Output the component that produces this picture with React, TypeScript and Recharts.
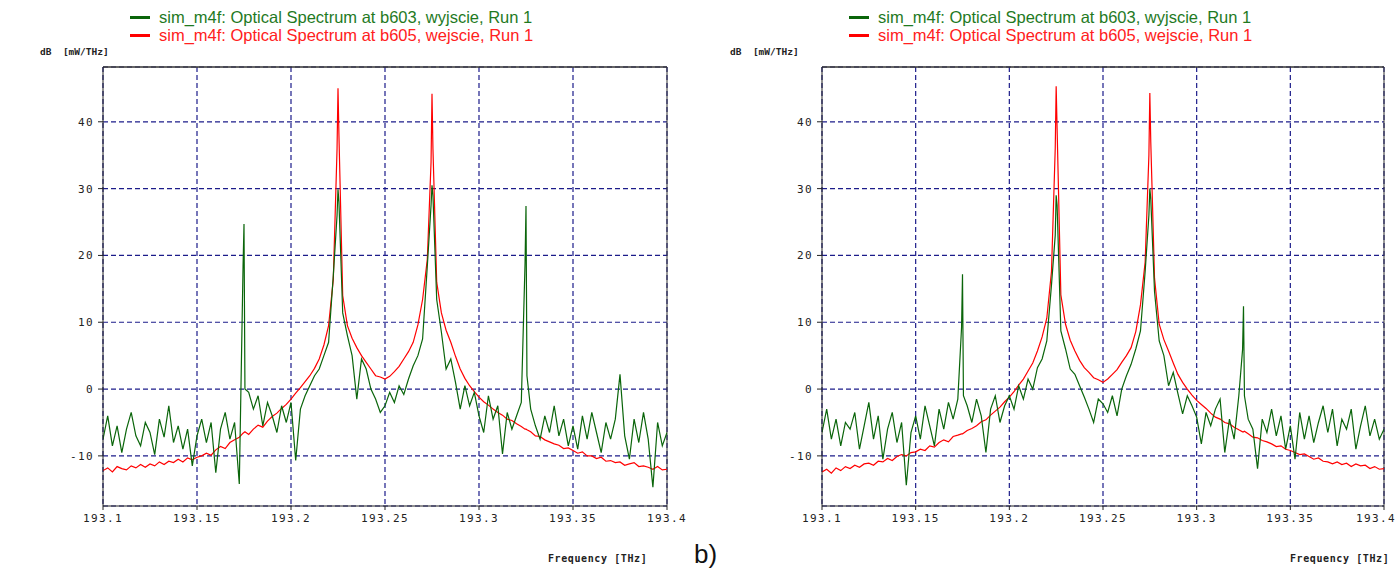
import { CartesianGrid, Line, LineChart, ReferenceLine, XAxis, YAxis } from "recharts";

// sampling grid of the spectrum analyser, THz
const freqGrid = [
  193.1, 193.1025, 193.105, 193.1075, 193.11, 193.1125, 193.115, 193.1175, 193.12, 193.1225,
  193.125, 193.1275, 193.13, 193.1325, 193.135, 193.1375, 193.14, 193.1425, 193.145, 193.1475,
  193.15, 193.1525, 193.155, 193.1575, 193.16, 193.1625, 193.165, 193.1675, 193.17, 193.1725,
  193.175, 193.1775, 193.18, 193.1825, 193.185, 193.1875, 193.19, 193.1925, 193.195, 193.1975,
  193.2, 193.2025, 193.205, 193.2075, 193.21, 193.2125, 193.215, 193.2175, 193.22, 193.2225,
  193.225, 193.2275, 193.23, 193.2325, 193.235, 193.2375, 193.24, 193.2425, 193.245, 193.2475,
  193.25, 193.2525, 193.255, 193.2575, 193.26, 193.2625, 193.265, 193.2675, 193.27, 193.2725,
  193.275, 193.2775, 193.28, 193.2825, 193.285, 193.2875, 193.29, 193.2925, 193.295, 193.2975,
  193.3, 193.3025, 193.305, 193.3075, 193.31, 193.3125, 193.315, 193.3175, 193.32, 193.3225,
  193.325, 193.3275, 193.33, 193.3325, 193.335, 193.3375, 193.34, 193.3425, 193.345, 193.3475,
  193.35, 193.3525, 193.355, 193.3575, 193.36, 193.3625, 193.365, 193.3675, 193.37, 193.3725,
  193.375, 193.3775, 193.38, 193.3825, 193.385, 193.3875, 193.39, 193.3925, 193.395, 193.3975, 193.4,
];

// extra samples around the narrow lines
const spikeFreq = [193.1745, 193.1755, 193.2245, 193.2255, 193.2745, 193.2755, 193.3245, 193.3255];

// left panel, b603 (wyjscie) and b605 (wejscie), dB
const leftGreen = [
  -7.5, -4.0, -8.5, -5.5, -9.5, -6.0, -3.5, -7.0, -8.5, -5.0,
  -6.5, -9.8, -4.5, -7.2, -2.5, -8.0, -5.5, -9.0, -6.0, -11.5,
  -7.0, -4.5, -8.0, -5.0, -12.5, -6.0, -3.5, -7.5, -5.0, -14.2,
  24.7, -0.5, -3.0, -1.0, -5.5, -2.0, -4.0, -6.5, -2.5, -5.0,
  -2.0, -10.7, -3.0, -1.0, 0.5, 2.0, 3.0, 5.0, 7.0, 17.0,
  29.9, 11.4, 8.0, 5.0, -1.5, 4.5, 3.0, 0.0, -1.5, -3.5,
  -2.5, -0.5, -2.0, 0.5, -0.8, 1.5, 3.5, 5.0, 7.5, 18.4,
  30.5, 13.4, 8.5, 3.0, 4.5, 1.0, -3.0, 0.5, -2.5, -0.5,
  -4.0, -6.5, -1.0, -4.5, -2.5, -9.7, -3.5, -6.0, -4.0, -2.0,
  27.4, -3.0, -5.5, -7.5, -4.0, -6.5, -2.5, -7.0, -4.5, -8.5,
  -5.5, -9.0, -4.0, -7.5, -3.5, -6.5, -9.5, -5.0, -7.5, -4.5,
  2.2, -7.0, -10.5, -4.5, -8.0, -3.5, -7.5, -14.7, -5.0, -8.5, -6.5,
];
const leftGreenSpike = [18.4, 0.0, 26.0, 28.0, 27.5, 29.0, 18.9, 2.0];

const leftRed = [
  -12.2, -11.8, -12.4, -11.6, -11.9, -12.1, -11.5, -11.8, -11.3, -11.7,
  -11.2, -11.5, -10.9, -11.3, -10.8, -11.0, -10.5, -10.9, -10.3, -10.6,
  -10.2, -10.0, -9.6, -9.9, -9.1, -8.6, -8.9, -8.0, -7.6, -7.2,
  -6.5, -6.8, -6.0, -5.4, -5.7, -4.8, -4.1, -3.6, -2.9, -2.3,
  -1.5, -0.6, 0.2, 1.1, 2.0, 3.1, 4.5, 6.6, 9.5, 16.4,
  45.0, 14.0, 9.5, 7.6, 6.2, 5.0, 4.0, 3.0, 2.0, 1.8,
  1.5, 1.9, 2.6, 3.4, 4.5, 5.6, 7.0, 9.6, 13.4, 19.4,
  44.2, 16.0, 11.4, 8.8, 7.0, 4.9, 3.0, 1.6, 0.5, -0.4,
  -1.2, -1.9, -2.4, -3.0, -3.5, -3.9, -4.5, -4.7, -5.2, -5.6,
  -6.0, -6.4, -7.0, -7.1, -7.6, -7.9, -8.2, -8.4, -8.9, -8.8,
  -9.2, -9.6, -9.4, -10.0, -10.0, -10.4, -10.2, -10.8, -10.7, -11.0,
  -10.9, -11.4, -11.2, -11.0, -11.6, -11.5, -11.7, -12.0, -11.6, -12.1, -12.0,
];
const leftRedSpike = [-6.6, -6.4, 36.0, 38.0, 34.0, 36.0, -6.0, -6.1];

// right panel
const rightGreen = [
  -6.5, -3.0, -7.5, -4.5, -8.5, -5.0, -6.0, -3.5, -9.0, -5.5,
  -2.0, -7.5, -4.0, -10.5, -6.0, -3.5, -8.0, -5.0, -14.4, -6.5,
  -4.0, -7.5, -2.5, -5.5, -8.5, -3.0, -6.0, -2.0, -4.5, -1.5,
  17.2, -2.5, -5.0, -1.5, -4.0, -9.5, -3.0, -1.0, -5.0, -2.5,
  -1.0, -3.0, 0.5, -1.5, 1.5, 0.0, 3.2, 4.5, 7.2, 15.6,
  29.0, 8.7, 6.0, 3.0, 2.2, 0.5, -1.2, -3.0, -5.0, -1.5,
  -2.2, -3.5, -1.0, -4.0, 0.0, 2.0, 3.7, 6.0, 8.7, 17.6,
  30.0, 14.6, 7.2, 5.0, 0.5, 2.5, -0.7, -3.7, -1.0, -2.5,
  -4.2, -8.2, -3.5, -5.5, -3.0, -1.5, -9.5, -4.5, -7.5, -1.0,
  12.4, -4.5, -6.0, -11.9, -4.5, -6.5, -3.0, -7.0, -4.0, -9.0,
  -5.5, -10.5, -3.5, -7.5, -4.0, -8.0, -5.0, -2.5, -6.5, -3.0,
  -8.5, -4.5, -6.0, -3.0, -9.0, -5.5, -2.5, -7.0, -4.5, -7.5, -6.0,
];
const rightGreenSpike = [9.2, -1.0, 23.0, 27.5, 26.0, 28.5, 5.9, -1.0];

const rightRed = [
  -12.4, -12.0, -12.6, -11.8, -12.2, -11.6, -11.9, -11.4, -11.7, -11.2,
  -11.1, -11.4, -10.8, -10.9, -10.4, -10.7, -10.1, -9.8, -10.0, -9.5,
  -9.4, -9.0, -9.2, -8.5, -8.7, -8.0, -7.6, -7.9, -7.1, -6.9,
  -6.7, -6.2, -5.9, -5.5, -4.9, -4.6, -3.9, -3.3, -2.7, -1.9,
  -1.2, -0.4, 0.6, 1.5, 2.7, 3.9, 5.7, 7.8, 10.6, 17.6,
  45.3, 14.1, 9.7, 7.3, 5.7, 4.3, 3.2, 2.5, 1.7, 1.4,
  1.0, 1.5, 2.2, 2.9, 4.0, 5.0, 6.2, 8.6, 12.6, 19.0,
  44.3, 16.6, 9.7, 7.4, 5.7, 3.9, 2.2, 1.0, 0.0, -0.9,
  -1.7, -2.3, -2.9, -3.6, -4.2, -4.5, -5.0, -5.2, -5.7, -6.1,
  -6.4, -6.7, -7.2, -7.3, -7.7, -7.9, -8.2, -8.6, -8.5, -9.0,
  -9.2, -9.5, -9.8, -9.7, -10.1, -10.5, -10.3, -10.8, -10.9, -11.2,
  -10.9, -11.3, -11.1, -11.6, -11.2, -11.5, -11.4, -11.9, -11.6, -12.0, -11.9,
];
const rightRedSpike = [-6.7, -6.6, 36.0, 39.0, 35.0, 37.0, -6.4, -6.3];

const xTicks = [193.1, 193.15, 193.2, 193.25, 193.3, 193.35, 193.4];
const yTicks = [-10, 0, 10, 20, 30, 40];

const greenName = "sim_m4f: Optical Spectrum at b603, wyjscie, Run 1";
const redName = "sim_m4f: Optical Spectrum at b605, wejscie, Run 1";

const GREEN = "#0a650a";
const RED = "#ff0000";
const GRID = "#1c1c8a";
const mono = '"DejaVu Sans Mono", "Liberation Mono", monospace';

function buildRows(green: number[], red: number[], greenSpike: number[], redSpike: number[]) {
  const rows = freqGrid.map((f, i) => ({ f, green: green[i], red: red[i] }));
  spikeFreq.forEach((f, i) => rows.push({ f, green: greenSpike[i], red: redSpike[i] }));
  return rows.sort((a, b) => a.f - b.f);
}

const tickStyle = { fontSize: 11, fontFamily: mono, fill: "#222", letterSpacing: 1.4 };

// keeps the last frequency label inside the picture
function xTick(limit: number) {
  return (props: any) => {
    const label = String(props.payload.value);
    const half = (label.length * 8) / 2;
    const x = Math.min(props.x, limit - half);
    return (
      <text x={x} y={props.y} dy="0.71em" textAnchor="middle" {...tickStyle}>
        {label}
      </text>
    );
  };
}

function Spectrum({
  left,
  width,
  marginLeft,
  marginRight,
  rows,
}: {
  left: number;
  width: number;
  marginLeft: number;
  marginRight: number;
  rows: { f: number; green: number; red: number }[];
}) {
  return (
    <div style={{ position: "absolute", left, top: 0 }}>
      <LineChart
        width={width}
        height={572}
        data={rows}
        margin={{ top: 67, right: marginRight, left: marginLeft, bottom: 41 }}
      >
        <CartesianGrid stroke={GRID} strokeDasharray="5 3" strokeWidth={1.2} />
        <XAxis
          dataKey="f"
          type="number"
          domain={[193.1, 193.4]}
          ticks={xTicks}
          allowDataOverflow
          height={25}
          stroke="#222"
          tickSize={4}
          tickMargin={4}
          tick={xTick(width - 1)}
        />
        <YAxis
          type="number"
          domain={[-17.5, 48.2]}
          ticks={yTicks}
          allowDataOverflow
          width={40}
          stroke="#222"
          tickSize={5}
          tickMargin={4}
          tick={tickStyle}
        />
        <ReferenceLine y={48.2} stroke="#333" strokeWidth={1.4} />
        <ReferenceLine x={193.4} stroke="#333" strokeWidth={1} />
        <Line dataKey="red" name={redName} stroke={RED} strokeWidth={1.2} dot={false} isAnimationActive={false} />
        <Line dataKey="green" name={greenName} stroke={GREEN} strokeWidth={1.2} dot={false} isAnimationActive={false} />
      </LineChart>
    </div>
  );
}

function Legend({ left }: { left: number }) {
  const row = (color: string, text: string, label: string) => (
    <div style={{ display: "flex", alignItems: "center", height: 18, color: text }}>
      <span style={{ display: "inline-block", width: 20, height: 3, background: color, marginRight: 9 }} />
      {label}
    </div>
  );
  return (
    <div
      style={{
        position: "absolute",
        left,
        top: 8,
        fontFamily: '"Liberation Sans", Arial, sans-serif',
        fontSize: 16.5,
        whiteSpace: "nowrap",
      }}
    >
      {row(GREEN, "#1f7a1f", greenName)}
      {row(RED, "#ff2020", redName)}
    </div>
  );
}

const smallLabel = {
  position: "absolute" as const,
  fontFamily: mono,
  fontSize: 9.5,
  fontWeight: 700,
  color: "#222",
  whiteSpace: "pre" as const,
};

export default function App() {
  const leftRows = buildRows(leftGreen, leftRed, leftGreenSpike, leftRedSpike);
  const rightRows = buildRows(rightGreen, rightRed, rightGreenSpike, rightRedSpike);
  return (
    <div
      style={{
        position: "absolute",
        left: 0,
        top: 0,
        width: 1397,
        height: 572,
        overflow: "hidden",
        background: "#fff",
      }}
    >
      <Spectrum left={0} width={700} marginLeft={63} marginRight={33} rows={leftRows} />
      <Spectrum left={730} width={667} marginLeft={52} marginRight={13} rows={rightRows} />
      <Legend left={130} />
      <Legend left={849} />
      <div style={{ ...smallLabel, left: 40, top: 46 }}>{"dB  [mW/THz]"}</div>
      <div style={{ ...smallLabel, left: 730, top: 46 }}>{"dB  [mW/THz]"}</div>
      <div style={{ ...smallLabel, left: 548, top: 553, fontSize: 10, letterSpacing: 0.6 }}>Frequency [THz]</div>
      <div style={{ ...smallLabel, left: 1290, top: 553, fontSize: 10, letterSpacing: 0.6 }}>Frequency [THz]</div>
      <div
        style={{
          position: "absolute",
          left: 694,
          top: 539,
          fontFamily: '"Liberation Sans", Arial, sans-serif',
          fontSize: 26,
          color: "#111",
        }}
      >
        b)
      </div>
    </div>
  );
}
